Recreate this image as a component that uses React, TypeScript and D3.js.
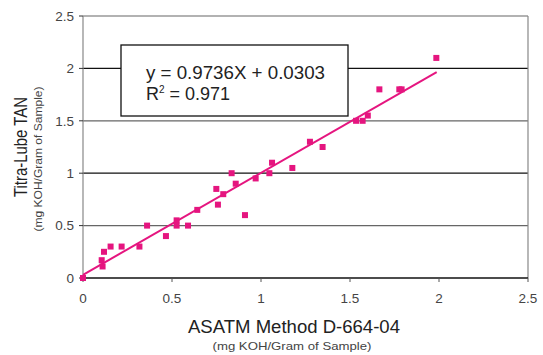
import { useEffect, useRef } from "react"
import * as d3 from "d3"

// ASTM D-664-04 vs Titra-Lube TAN readings (mg KOH / g)
const astm = [0, 0.105, 0.11, 0.118, 0.155, 0.217, 0.317, 0.36, 0.466, 0.526, 0.526, 0.59, 0.642, 0.749, 0.758, 0.788, 0.835, 0.858, 0.91, 0.97, 1.047, 1.062, 1.176, 1.275, 1.346, 1.534, 1.571, 1.6, 1.665, 1.777, 1.79, 1.985]
const titra = [0, 0.17, 0.11, 0.25, 0.3, 0.3, 0.3, 0.5, 0.4, 0.55, 0.5, 0.5, 0.65, 0.85, 0.7, 0.8, 1.0, 0.9, 0.6, 0.95, 1.0, 1.1, 1.05, 1.3, 1.25, 1.5, 1.5, 1.55, 1.8, 1.8, 1.8, 2.1]
const xTicks = [0, 0.5, 1, 1.5, 2, 2.5]
const yTicks = [0, 0.5, 1, 1.5, 2, 2.5]
const slope = 0.9736
const intercept = 0.0303
const fitRange = [0, 1.987]

const W = 543
const H = 355
const pink = "#e5157f"
const font = "'Liberation Sans', Arial, sans-serif"

export default function App() {
  const svgRef = useRef<SVGSVGElement>(null)

  useEffect(() => {
    if (!svgRef.current) return
    const svg = d3.select(svgRef.current)
    svg.selectAll("*").remove()

    const x = d3.scaleLinear().domain([0, 2.5]).range([83, 528])
    const y = d3.scaleLinear().domain([0, 2.5]).range([278, 16])

    // Grid lines
    svg.append("g").selectAll("line").data(yTicks.filter(d => d > 0)).join("line")
      .attr("x1", x(0)).attr("x2", x(2.5))
      .attr("y1", d => y(d)).attr("y2", d => y(d))
      .attr("stroke", d => (d % 1 === 0.5 ? "#666" : "#111"))
      .attr("stroke-width", 1.2)

    // Frame: left / right grey, bottom dark
    svg.append("line").attr("x1", x(0)).attr("x2", x(0)).attr("y1", y(2.5)).attr("y2", y(0))
      .attr("stroke", "#888").attr("stroke-width", 1.2)
    svg.append("line").attr("x1", x(2.5)).attr("x2", x(2.5)).attr("y1", y(2.5)).attr("y2", y(0))
      .attr("stroke", "#888").attr("stroke-width", 1.2)
    svg.append("line").attr("x1", x(0)).attr("x2", x(2.5)).attr("y1", y(0)).attr("y2", y(0))
      .attr("stroke", "#111").attr("stroke-width", 1.4)

    // Y ticks
    const yAxis = svg.append("g")
    yAxis.selectAll("line").data(yTicks).join("line")
      .attr("x1", x(0) - 4).attr("x2", x(0)).attr("y1", d => y(d)).attr("y2", d => y(d))
      .attr("stroke", "#333")
    yAxis.selectAll("text").data(yTicks).join("text")
      .attr("x", x(0) - 9).attr("y", d => y(d)).attr("dy", "0.35em")
      .attr("text-anchor", "end").attr("font-size", 13.5).attr("fill", "#444")
      .attr("font-family", font)
      .text(d => String(d))

    // X ticks
    const xAxis = svg.append("g")
    xAxis.selectAll("line").data(xTicks).join("line")
      .attr("x1", d => x(d)).attr("x2", d => x(d)).attr("y1", y(0)).attr("y2", y(0) + 4)
      .attr("stroke", "#555")
    xAxis.selectAll("text").data(xTicks).join("text")
      .attr("x", d => x(d)).attr("y", y(0) + 25)
      .attr("text-anchor", "middle").attr("font-size", 13.5).attr("fill", "#444")
      .attr("font-family", font)
      .text(d => String(d))

    // Equation box
    const box = svg.append("g")
    box.append("rect").attr("x", 121).attr("y", 45).attr("width", 227).attr("height", 71)
      .attr("fill", "white").attr("stroke", "#111").attr("stroke-width", 1.3)
    box.append("text").attr("x", 146).attr("y", 79)
      .attr("font-size", 18).attr("font-family", font).attr("fill", "#222")
      .attr("textLength", 179).attr("lengthAdjust", "spacingAndGlyphs")
      .text(`y = ${slope}X + ${intercept}`)
    const r2 = box.append("text").attr("x", 146).attr("y", 100)
      .attr("font-size", 18).attr("font-family", font).attr("fill", "#222")
    r2.append("tspan").text("R")
    r2.append("tspan").attr("font-size", 10).attr("dy", -7).text("2")
    r2.append("tspan").attr("dy", 7).text(" = 0.971")

    // Trend line
    svg.append("line")
      .attr("x1", x(fitRange[0])).attr("y1", y(slope * fitRange[0] + intercept))
      .attr("x2", x(fitRange[1])).attr("y2", y(slope * fitRange[1] + intercept))
      .attr("stroke", pink).attr("stroke-width", 2)

    // Points
    const s = 6
    svg.append("g").selectAll("rect").data(astm.map((a, i) => [a, titra[i]])).join("rect")
      .attr("x", d => x(d[0]) - s / 2).attr("y", d => y(d[1]) - s / 2)
      .attr("width", s).attr("height", s).attr("fill", pink)

    // Axis titles
    svg.append("text").attr("x", 294).attr("y", 333).attr("text-anchor", "middle")
      .attr("font-size", 17.5).attr("font-family", font).attr("fill", "#222")
      .attr("textLength", 212).attr("lengthAdjust", "spacingAndGlyphs")
      .text("ASATM Method D-664-04")
    svg.append("text").attr("x", 292).attr("y", 350).attr("text-anchor", "middle")
      .attr("font-size", 11).attr("font-family", font).attr("fill", "#444")
      .attr("textLength", 159).attr("lengthAdjust", "spacingAndGlyphs")
      .text("(mg KOH/Gram of Sample)")

    svg.append("text").attr("transform", "translate(27,147) rotate(-90)").attr("text-anchor", "middle")
      .attr("font-size", 18).attr("font-family", font).attr("fill", "#222")
      .attr("textLength", 100).attr("lengthAdjust", "spacingAndGlyphs")
      .text("Titra-Lube TAN")
    svg.append("text").attr("transform", "translate(42,159) rotate(-90)").attr("text-anchor", "middle")
      .attr("font-size", 11.5).attr("font-family", font).attr("fill", "#444")
      .attr("textLength", 145).attr("lengthAdjust", "spacingAndGlyphs")
      .text("(mg KOH/Gram of Sample)")
  }, [])

  return (
    <div style={{ position: "absolute", left: 0, top: 0, width: W, height: H, background: "white" }}>
      <svg ref={svgRef} width={W} height={H} />
    </div>
  )
}
